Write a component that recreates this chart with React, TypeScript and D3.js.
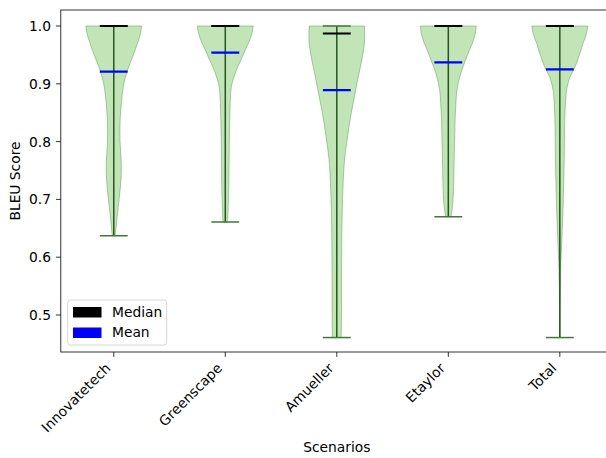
import React from "react";
import * as d3 from "d3";

// BLEU score distributions per scenario
const scenarios = ["Innovatetech", "Greenscape", "Amueller", "Etaylor", "Total"];
const medians = [1.0, 1.0, 0.987, 1.0, 1.0];
const means = [0.921, 0.954, 0.889, 0.937, 0.925];
const minima = [0.637, 0.661, 0.461, 0.67, 0.461];
const maxima = [1.0, 1.0, 1.0, 1.0, 1.0];
const yTicks = [0.5, 0.6, 0.7, 0.8, 0.9, 1.0];

// Kernel density profiles: [score, relative width]
const densityInnovatetech: [number, number][] = [
  [1.0, 1.0], [0.99, 0.97], [0.98, 0.92], [0.97, 0.85], [0.96, 0.78], [0.95, 0.7],
  [0.94, 0.62], [0.93, 0.54], [0.92, 0.47], [0.91, 0.41], [0.9, 0.36], [0.88, 0.3],
  [0.86, 0.26], [0.84, 0.23], [0.82, 0.22], [0.8, 0.225], [0.78, 0.25], [0.76, 0.27],
  [0.74, 0.265], [0.72, 0.235], [0.7, 0.19], [0.68, 0.145], [0.66, 0.1], [0.637, 0.055],
];
const densityGreenscape: [number, number][] = [
  [1.0, 1.0], [0.99, 0.97], [0.98, 0.91], [0.97, 0.83], [0.96, 0.73], [0.95, 0.64],
  [0.94, 0.55], [0.93, 0.45], [0.92, 0.37], [0.91, 0.3], [0.9, 0.24], [0.89, 0.205],
  [0.87, 0.18], [0.84, 0.16], [0.8, 0.145], [0.76, 0.135], [0.72, 0.125], [0.7, 0.115],
  [0.68, 0.1], [0.661, 0.08],
];
const densityAmueller: [number, number][] = [
  [1.0, 0.99], [0.99, 1.0], [0.97, 0.99], [0.95, 0.93], [0.93, 0.85], [0.91, 0.76],
  [0.89, 0.68], [0.87, 0.6], [0.85, 0.52], [0.83, 0.45], [0.81, 0.39], [0.79, 0.33],
  [0.77, 0.28], [0.75, 0.25], [0.72, 0.22], [0.68, 0.195], [0.64, 0.18], [0.6, 0.175],
  [0.55, 0.17], [0.5, 0.168], [0.461, 0.16],
];
const densityEtaylor: [number, number][] = [
  [1.0, 1.0], [0.99, 0.98], [0.98, 0.93], [0.97, 0.86], [0.96, 0.77], [0.95, 0.69],
  [0.94, 0.61], [0.93, 0.53], [0.92, 0.46], [0.91, 0.4], [0.9, 0.35], [0.89, 0.315],
  [0.88, 0.29], [0.86, 0.265], [0.84, 0.245], [0.81, 0.23], [0.77, 0.21], [0.73, 0.195],
  [0.7, 0.17], [0.685, 0.14], [0.67, 0.1],
];
const densityTotal: [number, number][] = [
  [1.0, 1.0], [0.99, 0.97], [0.98, 0.91], [0.97, 0.83], [0.96, 0.77], [0.95, 0.7],
  [0.94, 0.63], [0.93, 0.55], [0.92, 0.45], [0.91, 0.35], [0.9, 0.29], [0.89, 0.245],
  [0.87, 0.205], [0.85, 0.185], [0.82, 0.17], [0.78, 0.16], [0.74, 0.145], [0.7, 0.125],
  [0.67, 0.105], [0.64, 0.08], [0.61, 0.055], [0.58, 0.03], [0.55, 0.018], [0.52, 0.01],
  [0.461, 0.005],
];
const densities = [densityInnovatetech, densityGreenscape, densityAmueller, densityEtaylor, densityTotal];

const W = 606;
const H = 458;
const plot = { left: 60.8, right: 612.8, top: 10, bottom: 352 };
const font = "'DejaVu Sans', sans-serif";
const fs = 13.8;

export default function App() {
  const x = d3.scaleLinear().domain([0.525, 5.475]).range([plot.left, plot.right]);
  const y = d3.scaleLinear().domain([0.436, 1.0277]).range([plot.bottom, plot.top]);
  const halfW = x(1.25) - x(1); // violin half width (widths = 0.5)
  const lineHalf = x(1.125) - x(1); // extrema / median / mean line half length

  const fill = "rgb(194,229,184)";
  const edge = "rgba(70,150,60,0.45)";
  const barColor = "#24561d";
  const capColor = "#3f7a37";

  return (
    <svg width={W} height={H} style={{ position: "absolute", left: 0, top: 0, background: "#fff" }}>
      <defs>
        <clipPath id="plotClip">
          <rect x={plot.left} y={plot.top} width={plot.right - plot.left} height={plot.bottom - plot.top} />
        </clipPath>
      </defs>
      <g clipPath="url(#plotClip)">
        {scenarios.map((s, i) => {
          const cx = x(i + 1);
          const area = d3
            .area<[number, number]>()
            .y((d) => y(d[0]))
            .x0((d) => cx - d[1] * halfW)
            .x1((d) => cx + d[1] * halfW)
            .curve(d3.curveCatmullRom);
          return (
            <g key={s}>
              <path d={area(densities[i]) || ""} fill={fill} stroke={edge} strokeWidth={1} />
              <line x1={cx} x2={cx} y1={y(minima[i])} y2={y(maxima[i])} stroke={barColor} strokeWidth={1.5} />
              <line x1={cx - lineHalf} x2={cx + lineHalf} y1={y(minima[i])} y2={y(minima[i])} stroke={capColor} strokeWidth={1.5} />
              <line x1={cx - lineHalf} x2={cx + lineHalf} y1={y(maxima[i])} y2={y(maxima[i])} stroke={capColor} strokeWidth={1.5} />
              <line x1={cx - lineHalf} x2={cx + lineHalf} y1={y(medians[i])} y2={y(medians[i])} stroke="#000" strokeWidth={2.1} />
              <line x1={cx - lineHalf} x2={cx + lineHalf} y1={y(means[i])} y2={y(means[i])} stroke="#0000ff" strokeWidth={2.1} />
            </g>
          );
        })}
      </g>

      {/* axes frame */}
      <rect
        x={plot.left}
        y={plot.top}
        width={plot.right - plot.left}
        height={plot.bottom - plot.top}
        fill="none"
        stroke="#000"
        strokeWidth={0.8}
      />

      {/* y axis */}
      {yTicks.map((t) => (
        <g key={t}>
          <line x1={plot.left - 4.9} x2={plot.left} y1={y(t)} y2={y(t)} stroke="#000" strokeWidth={0.8} />
          <text
            x={plot.left - 9.8}
            y={y(t)}
            dy="0.36em"
            textAnchor="end"
            fontFamily={font}
            fontSize={fs}
            fill="#000"
          >
            {t.toFixed(1)}
          </text>
        </g>
      ))}
      <text
        transform={`translate(20,${(plot.top + plot.bottom) / 2}) rotate(-90)`}
        textAnchor="middle"
        fontFamily={font}
        fontSize={fs}
        fill="#000"
      >
        BLEU Score
      </text>

      {/* x axis */}
      {scenarios.map((s, i) => {
        const cx = x(i + 1);
        return (
          <g key={s}>
            <line x1={cx} x2={cx} y1={plot.bottom} y2={plot.bottom + 4.9} stroke="#000" strokeWidth={0.8} />
            <text
              transform={`translate(${cx - 2.3},${plot.bottom + 17}) rotate(-45)`}
              textAnchor="end"
              fontFamily={font}
              fontSize={fs}
              fill="#000"
            >
              {s}
            </text>
          </g>
        );
      })}
      <text
        x={(plot.left + plot.right) / 2}
        y={452}
        textAnchor="middle"
        fontFamily={font}
        fontSize={fs}
        fill="#000"
      >
        Scenarios
      </text>

      {/* legend */}
      <g>
        <rect x={67.7} y={300} width={99} height={45} rx={2.8} fill="rgba(255,255,255,0.8)" stroke="#cccccc" strokeWidth={0.8} />
        <rect x={73} y={307} width={28.5} height={10.5} fill="#000" />
        <rect x={73} y={327.5} width={28.5} height={10.5} fill="#0000ff" />
        <text x={112} y={316.5} fontFamily={font} fontSize={fs} fill="#000">Median</text>
        <text x={112} y={337} fontFamily={font} fontSize={fs} fill="#000">Mean</text>
      </g>
    </svg>
  );
}
